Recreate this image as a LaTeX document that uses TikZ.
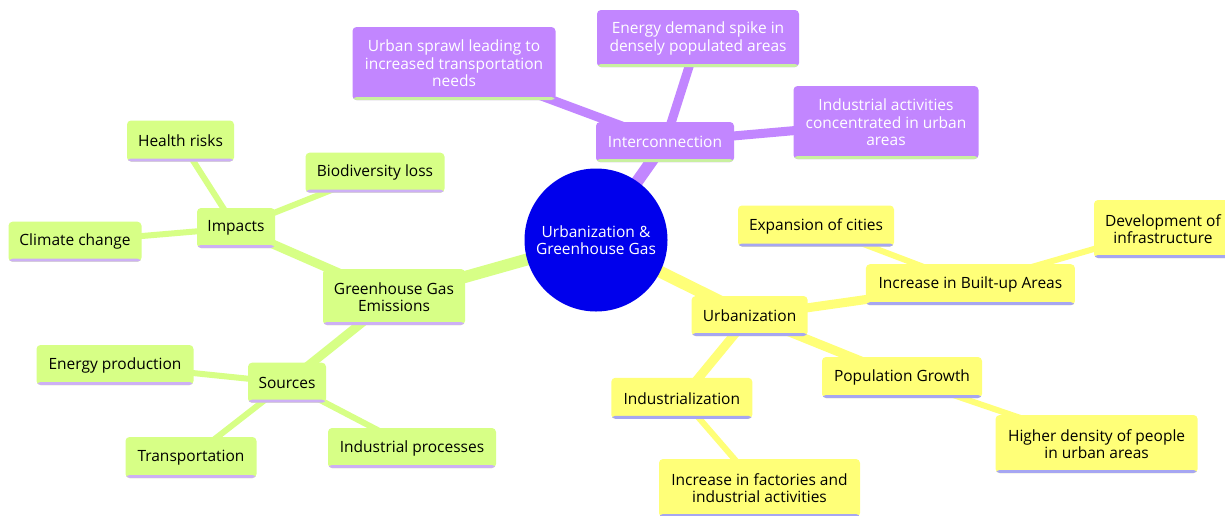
\documentclass[tikz,border=0pt]{standalone}
\usepackage{fontspec}
\setmainfont{Open Sans}
\pgfdeclarelayer{back}
\pgfdeclarelayer{bg}
\pgfsetlayers{back,bg,main}
\definecolor{cyel}{HTML}{FFFF78}
\definecolor{cgrn}{HTML}{D7FF86}
\definecolor{cpur}{HTML}{C286FF}
\definecolor{croot}{HTML}{0000EC}
\definecolor{ulyel}{HTML}{A6A6F2}
\definecolor{ulgrn}{HTML}{CDB0F5}
\definecolor{ulpur}{HTML}{C9F0A0}
\tikzset{
  sz/.style 2 args={minimum width=#1pt, minimum height=#2pt},
  box/.style={rounded corners=4pt, inner sep=0pt, align=center,
    font=\fontsize{15.5}{17.5}\selectfont},
  gbox/.style={box, fill=cgrn, text=black,
    path picture={\fill[ulgrn] ([yshift=-1pt]path picture bounding box.south west) rectangle ([yshift=3pt]path picture bounding box.south east);}},
  ybox/.style={box, fill=cyel, text=black,
    path picture={\fill[ulyel] ([yshift=-1pt]path picture bounding box.south west) rectangle ([yshift=3pt]path picture bounding box.south east);}},
  pbox/.style={box, fill=cpur, text=white,
    path picture={\fill[ulpur] ([yshift=-1pt]path picture bounding box.south west) rectangle ([yshift=3pt]path picture bounding box.south east);}},
  rootnode/.style={circle, fill=croot, text=white, minimum size=143pt, inner sep=0pt,
    align=center, font=\fontsize{15.5}{17.5}\selectfont},
  eone/.style={line width=12pt},
  etwo/.style={line width=9pt},
  ethree/.style={line width=6pt},
}
\begin{document}
\begin{tikzpicture}[x=1pt,y=-1pt]
\clip (0,0) rectangle (1225,515);
\begin{pgfonlayer}{back}
\fill[white] (0,0) rectangle (1225,515);
\end{pgfonlayer}
% root
\node[rootnode] (root) at (596,240) {Urbanization \&\\Greenhouse Gas};
% purple branch
\node[pbox, sz={138}{40}] (inter) at (665,142) {Interconnection};
\node[pbox, sz={203}{73}] (sprawl) at (454,63.5) {Urban sprawl leading to\\increased transportation\\needs};
\node[pbox, sz={202}{57}] (energy) at (698,38.5) {Energy demand spike in\\densely populated areas};
\node[pbox, sz={185}{73}] (indact) at (886,122.5) {Industrial activities\\concentrated in urban\\areas};
% green branch
\node[gbox, sz={142}{56}] (ghg) at (394,297) {Greenhouse Gas\\Emissions};
\node[gbox, sz={78}{40}] (impacts) at (236,228) {Impacts};
\node[gbox, sz={107}{41}] (health) at (180.5,141) {Health risks};
\node[gbox, sz={139}{40}] (bio) at (375,172.7) {Biodiversity loss};
\node[gbox, sz={133}{40}] (climate) at (75,241.7) {Climate change};
\node[gbox, sz={78}{40}] (sources) at (287,382.7) {Sources};
\node[gbox, sz={157}{40}] (eprod) at (115,365) {Energy production};
\node[gbox, sz={131}{41}] (transport) at (191,457.5) {Transportation};
\node[gbox, sz={168}{40}] (indproc) at (412,448) {Industrial processes};
% yellow branch
\node[ybox, sz={116}{40}] (urban) at (749.6,316) {Urbanization};
\node[ybox, sz={209}{41}] (builtup) at (970.4,284.7) {Increase in Built-up Areas};
\node[ybox, sz={156}{41}] (expansion) at (816,226) {Expansion of cities};
\node[ybox, sz={138}{58}] (devinfra) at (1163,229) {Development of\\infrastructure};
\node[ybox, sz={160}{41}] (popgrowth) at (902,377.5) {Population Growth};
\node[ybox, sz={202}{58}] (higher) at (1096.6,444) {Higher density of people\\in urban areas};
\node[ybox, sz={141}{41}] (indus) at (681.8,398.3) {Industrialization};
\node[ybox, sz={201}{58}] (factories) at (759.5,488) {Increase in factories and\\industrial activities};
% connectors
\begin{pgfonlayer}{bg}
\draw[cgrn, eone] (root.center) -- (ghg.center);
\draw[cyel, eone] (root.center) -- (urban.center);
\draw[cpur, eone] (root.center) -- (inter.center);
\draw[cgrn, etwo] (ghg.center) -- (impacts.center);
\draw[cgrn, etwo] (ghg.center) -- (sources.center);
\draw[cgrn, ethree] (impacts.center) -- (health.center);
\draw[cgrn, ethree] (impacts.center) -- (bio.center);
\draw[cgrn, ethree] (impacts.center) -- (climate.center);
\draw[cgrn, ethree] (sources.center) -- (eprod.center);
\draw[cgrn, ethree] (sources.center) -- (transport.center);
\draw[cgrn, ethree] (sources.center) -- (indproc.center);
\draw[cyel, etwo] (urban.center) -- (builtup.center);
\draw[cyel, etwo] (urban.center) -- (popgrowth.center);
\draw[cyel, etwo] (urban.center) -- (indus.center);
\draw[cyel, ethree] (builtup.center) -- (expansion.center);
\draw[cyel, ethree] (builtup.center) -- (devinfra.center);
\draw[cyel, ethree] (popgrowth.center) -- (higher.center);
\draw[cyel, ethree] (indus.center) -- (factories.center);
\draw[cpur, etwo] (inter.center) -- (sprawl.center);
\draw[cpur, etwo] (inter.center) -- (energy.center);
\draw[cpur, etwo] (inter.center) -- (indact.center);
\end{pgfonlayer}
\end{tikzpicture}
\end{document}
